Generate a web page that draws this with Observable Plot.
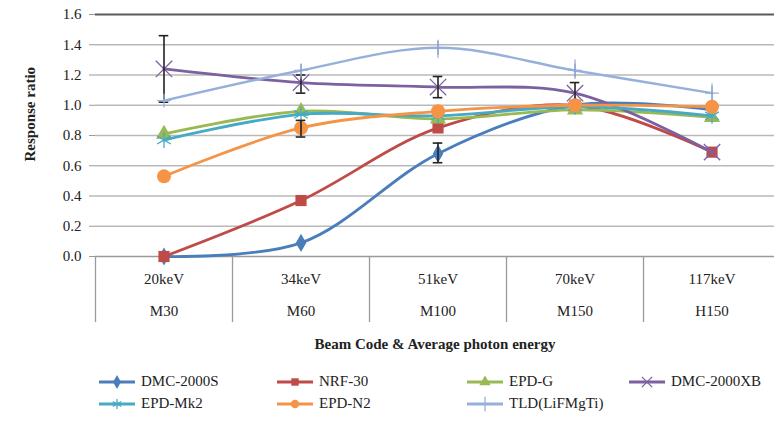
<!DOCTYPE html>
<html>
<head>
<meta charset="utf-8">
<script src="https://cdn.jsdelivr.net/npm/d3@7"></script>
<script src="https://cdn.jsdelivr.net/npm/@observablehq/plot@0.6"></script>
<style>
  body { margin: 0; background: #fff; font-family: 'Liberation Serif', 'Times New Roman', serif; }
  #wrap { position: relative; width: 774px; height: 424px; overflow: hidden; background: #fff; }
  #title { position: absolute; left: 0; width: 870px; top: 336px; text-align: center; font-weight: bold; font-size: 15px; color: #222; }
  #legend { position: absolute; left: 98px; top: 373px; display: grid; grid-template-columns: 178px 190px 162px 150px; row-gap: 5px; }
  .item { display: flex; align-items: center; height: 17px; font-size: 15px; color: #222; white-space: nowrap; }
  .item svg { margin-right: 5px; }
</style>
</head>
<body>
<div id="wrap">
  <div id="chart"></div>
  <div id="title">Beam Code &amp; Average photon energy</div>
  <div id="legend"></div>
</div>
<script>
// ---- data ----
const energies = ["20keV", "34keV", "51keV", "70keV", "117keV"];
const beamCodes = ["M30", "M60", "M100", "M150", "H150"];
const yTicks = [0, 0.2, 0.4, 0.6, 0.8, 1.0, 1.2, 1.4, 1.6];
const seriesNames = ["DMC-2000S", "NRF-30", "EPD-G", "DMC-2000XB", "EPD-Mk2", "EPD-N2", "TLD(LiFMgTi)"];
const seriesColors = ["#4a7ebb", "#be4b48", "#98b954", "#7d60a0", "#46aac5", "#f59446", "#96b0dc"];
const seriesSymbols = ["diamond", "square", "triangle", "times", "asterisk", "circle", "plus"];

const dmc2000s   = [0.00, 0.09, 0.68, 1.00, 0.97];
const nrf30      = [0.00, 0.37, 0.85, 1.00, 0.69];
const epdG       = [0.81, 0.96, 0.91, 0.97, 0.92];
const dmc2000xb  = [1.24, 1.15, 1.12, 1.08, 0.69];
const epdMk2     = [0.77, 0.94, 0.93, 0.99, 0.93];
const epdN2      = [0.53, 0.85, 0.96, 1.00, 0.99];
const tld        = [1.03, 1.23, 1.38, 1.23, 1.08];
const seriesValues = [dmc2000s, nrf30, epdG, dmc2000xb, epdMk2, epdN2, tld];

// error bars
const errSeries = ["DMC-2000XB", "DMC-2000XB", "EPD-N2", "DMC-2000S", "DMC-2000XB", "DMC-2000XB", "TLD(LiFMgTi)", "TLD(LiFMgTi)", "TLD(LiFMgTi)", "TLD(LiFMgTi)"];
const errIndex  = [0, 1, 1, 2, 2, 3, 1, 2, 3, 4];
const errLow    = [1.02, 1.08, 0.79, 0.62, 1.05, 1.00, 1.17, 1.31, 1.17, 1.03];
const errHigh   = [1.46, 1.20, 0.90, 0.75, 1.19, 1.15, 1.27, 1.43, 1.30, 1.14];

// ---- build tables ----
const rows = seriesNames.flatMap((s, k) => seriesValues[k].map((v, i) => ({s, i, v})));
const errs = errSeries.map((s, k) => ({s, i: errIndex[k], lo: errLow[k], hi: errHigh[k]}));
const idx = energies.map((_, i) => i);
const bounds = idx.map(i => i - 0.5);

const marks = [
  Plot.ruleY(yTicks.filter(v => v > 0 && v < 1.6), {stroke: "#b9b9b9", strokeWidth: 1.4}),
  Plot.ruleY([1.6], {stroke: "#5a5a5a", strokeWidth: 1.8}),
  Plot.ruleY([0], {stroke: "#9a9a9a", strokeWidth: 1.6}),
  Plot.axisY(yTicks, {tickSize: 6, tickPadding: 8, tickFormat: d => d.toFixed(1), stroke: "#9a9a9a", fill: "#222", fontSize: 15, label: null}),
  Plot.axisX(bounds, {tickSize: 66, tickFormat: () => "", stroke: "#9a9a9a", strokeWidth: 1.3, label: null}),
  Plot.axisX(idx, {tickSize: 0, tickPadding: 17, tickFormat: i => energies[i], fill: "#222", fontSize: 15, label: null}),
  Plot.axisX(idx, {tickSize: 0, tickPadding: 49, tickFormat: i => beamCodes[i], fill: "#222", fontSize: 15, label: null}),
  Plot.text(["Response ratio"], {frameAnchor: "left", rotate: -90, dx: -65, dy: 26, fontWeight: "bold", fontSize: 15, fill: "#222"})
];

seriesNames.forEach((name, k) => {
  const data = rows.filter(d => d.s === name);
  marks.push(Plot.line(data, {x: "i", y: "v", stroke: "s", strokeWidth: k === 6 ? 2.4 : 2.8, curve: "catmull-rom"}));
  const sym = seriesSymbols[k];
  const strokeOnly = sym === "times" || sym === "asterisk" || sym === "plus";
  const r = {diamond: 5.5, square: 6.3, triangle: 6, times: 7.5, asterisk: 7.5, circle: 7, plus: 4.5}[sym];
  marks.push(Plot.dot(data, strokeOnly
    ? {x: "i", y: "v", symbol: () => sym, r, stroke: "s", strokeWidth: 1.3, fill: "none"}
    : {x: "i", y: "v", symbol: () => sym, r, fill: "s", stroke: "none"}));
  const e = errs.filter(d => d.s === name);
  if (e.length) {
    const isTld = name === "TLD(LiFMgTi)";
    const col = isTld ? "#7f97c4" : "#222";
    marks.push(Plot.ruleX(e, {x: "i", y1: "lo", y2: "hi", stroke: col, strokeWidth: isTld ? 1 : 1.6}));
    if (!isTld) {
      marks.push(Plot.ruleY(e, {y: "lo", x1: d => d.i - 0.035, x2: d => d.i + 0.035, stroke: col, strokeWidth: 1.6}));
      marks.push(Plot.ruleY(e, {y: "hi", x1: d => d.i - 0.035, x2: d => d.i + 0.035, stroke: col, strokeWidth: 1.6}));
    }
  }
});

const chart = Plot.plot({
  width: 774,
  height: 330,
  marginLeft: 95,
  marginRight: 0,
  marginTop: 14,
  marginBottom: 74,
  x: {type: "linear", domain: [-0.5, 4.456]},
  y: {domain: [0, 1.6]},
  color: {domain: seriesNames, range: seriesColors},
  style: {fontFamily: "'Liberation Serif', 'Times New Roman', serif", fontSize: "15px", background: "white", overflow: "visible"},
  marks
});
document.getElementById("chart").appendChild(chart);

// ---- legend ----
const legend = d3.select("#legend");
const symMap = {diamond: d3.symbolDiamond, square: d3.symbolSquare, triangle: d3.symbolTriangle, times: d3.symbolTimes, asterisk: d3.symbolAsterisk, circle: d3.symbolCircle, plus: d3.symbolPlus};
seriesNames.forEach((name, k) => {
  const item = legend.append("div").attr("class", "item");
  const svg = item.append("svg").attr("width", 38).attr("height", 16);
  svg.append("line").attr("x1", 1).attr("x2", 37).attr("y1", 8).attr("y2", 8)
    .attr("stroke", seriesColors[k]).attr("stroke-width", 3);
  const sym = seriesSymbols[k];
  const strokeOnly = sym === "times" || sym === "asterisk" || sym === "plus";
  const p = svg.append("path").attr("transform", "translate(19,8)")
    .attr("d", d3.symbol(symMap[sym], strokeOnly ? 70 : 55)());
  if (strokeOnly) p.attr("fill", "none").attr("stroke", seriesColors[k]).attr("stroke-width", 1.3);
  else p.attr("fill", seriesColors[k]);
  item.append("span").text(name);
});
</script>
</body>
</html>
